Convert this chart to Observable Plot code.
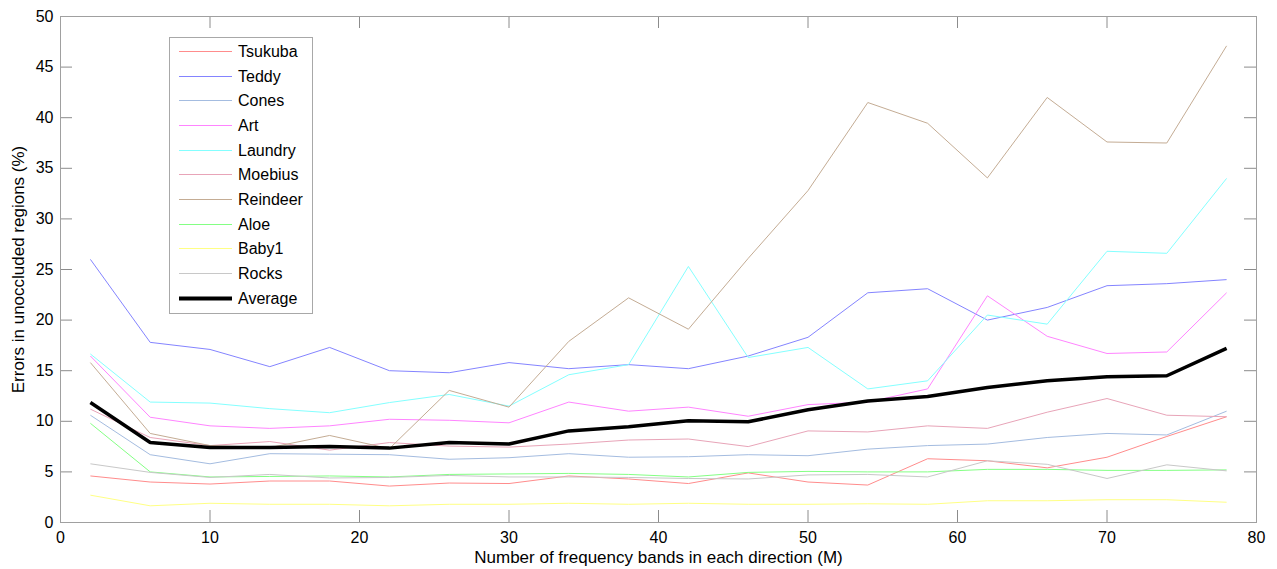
<!DOCTYPE html>
<html>
<head>
<meta charset="utf-8">
<script src="https://cdn.jsdelivr.net/npm/d3@7"></script>
<script src="https://cdn.jsdelivr.net/npm/@observablehq/plot@0.6"></script>
<style>
  html, body { margin: 0; padding: 0; background: #fff; }
  #wrap { position: relative; width: 1277px; height: 569px; font-family: "Liberation Sans", Arial, sans-serif; }
  #legend { position: absolute; left: 169px; top: 37px; }
</style>
</head>
<body>
<div id="wrap"></div>
<script>
const M = [2, 6, 10, 14, 18, 22, 26, 30, 34, 38, 42, 46, 50, 54, 58, 62, 66, 70, 74, 78];

const tsukuba  = [4.6, 4.0, 3.8, 4.1, 4.1, 3.6, 3.9, 3.85, 4.6, 4.3, 3.85, 4.9, 4.0, 3.7, 6.3, 6.1, 5.4, 6.45, 8.5, 10.45];
const teddy    = [26.0, 17.8, 17.1, 15.4, 17.3, 15.0, 14.8, 15.8, 15.2, 15.6, 15.2, 16.45, 18.3, 22.7, 23.1, 20.0, 21.25, 23.4, 23.6, 24.0];
const cones    = [10.6, 6.7, 5.8, 6.8, 6.75, 6.7, 6.25, 6.4, 6.8, 6.45, 6.5, 6.7, 6.6, 7.25, 7.6, 7.75, 8.4, 8.8, 8.65, 11.0];
const art      = [16.45, 10.4, 9.55, 9.3, 9.55, 10.2, 10.1, 9.85, 11.9, 11.0, 11.4, 10.5, 11.65, 11.9, 13.2, 22.4, 18.4, 16.7, 16.85, 22.7];
const laundry  = [16.65, 11.9, 11.8, 11.25, 10.85, 11.85, 12.65, 11.5, 14.6, 15.6, 25.3, 16.3, 17.3, 13.2, 14.0, 20.5, 19.6, 26.8, 26.6, 34.0];
const moebius  = [11.2, 8.4, 7.6, 8.0, 7.15, 7.9, 7.55, 7.45, 7.75, 8.15, 8.25, 7.5, 9.05, 8.95, 9.55, 9.3, 10.9, 12.25, 10.6, 10.45];
const reindeer = [15.8, 8.8, 7.6, 7.4, 8.6, 7.3, 13.05, 11.4, 17.9, 22.2, 19.1, 26.1, 32.8, 41.5, 39.45, 34.05, 42.0, 37.6, 37.5, 47.1];
const aloe     = [9.8, 5.0, 4.5, 4.55, 4.6, 4.5, 4.75, 4.8, 4.85, 4.75, 4.5, 4.95, 5.05, 5.0, 5.0, 5.25, 5.25, 5.15, 5.15, 5.2];
const baby1    = [2.7, 1.65, 1.9, 1.8, 1.8, 1.65, 1.8, 1.8, 1.9, 1.8, 1.9, 1.8, 1.8, 1.85, 1.8, 2.15, 2.15, 2.25, 2.25, 2.0];
const rocks    = [5.8, 4.95, 4.45, 4.75, 4.4, 4.45, 4.65, 4.5, 4.5, 4.45, 4.35, 4.3, 4.7, 4.75, 4.5, 6.1, 5.75, 4.35, 5.7, 5.1];
const average  = [11.85, 7.9, 7.4, 7.4, 7.5, 7.35, 7.9, 7.75, 9.05, 9.45, 10.05, 9.95, 11.15, 12.0, 12.45, 13.35, 14.0, 14.4, 14.5, 17.2];

const seriesNames  = ["Tsukuba", "Teddy", "Cones", "Art", "Laundry", "Moebius", "Reindeer", "Aloe", "Baby1", "Rocks", "Average"];
const seriesValues = [tsukuba, teddy, cones, art, laundry, moebius, reindeer, aloe, baby1, rocks, average];
const seriesColors = ["#ff8c8c", "#8484ff", "#a4bce0", "#ff84ff", "#84ffff", "#e8a4b8", "#c4ac94", "#84ff84", "#ffff84", "#c8c8c8", "#000000"];
const seriesWidths = [1, 1, 1, 1, 1, 1, 1, 1, 1, 1, 3.5];

const xTicks = [0, 10, 20, 30, 40, 50, 60, 70, 80];
const yTicks = [0, 5, 10, 15, 20, 25, 30, 35, 40, 45, 50];
const xLabel = "Number of frequency bands in each direction (M)";
const yLabel = "Errors in unoccluded regions (%)";

const W = 1277, H = 569;
const mL = 60, mR = 21, mT = 16, mB = 47;
const pw = W - mL - mR, ph = H - mT - mB;
const T = 12;

const rows = [];
seriesNames.forEach((name, i) => {
  M.forEach((m, j) => rows.push({series: name, idx: i, M: m, v: seriesValues[i][j]}));
});

const lineMarks = seriesNames.map((name, i) =>
  Plot.line(rows.filter(r => r.idx === i), {
    x: "M", y: "v", stroke: seriesColors[i], strokeWidth: seriesWidths[i],
    strokeLinejoin: "miter", strokeLinecap: "butt"
  })
);

const tickColor = "#8c8c8c";
const chart = Plot.plot({
  width: W, height: H,
  marginLeft: mL, marginRight: mR, marginTop: mT, marginBottom: mB,
  style: {fontFamily: "'Liberation Sans', Arial, sans-serif", fontSize: "16px", color: "#000", background: "#fff", overflow: "visible"},
  x: {domain: [0, 80]},
  y: {domain: [0, 50]},
  marks: [
    Plot.ruleX(xTicks, {x: d => d, insetTop: ph - T, stroke: tickColor}),
    Plot.ruleX(xTicks, {x: d => d, insetBottom: ph - T, stroke: tickColor}),
    Plot.ruleY(yTicks, {y: d => d, insetRight: pw - T, stroke: tickColor}),
    Plot.ruleY(yTicks, {y: d => d, insetLeft: pw - T, stroke: tickColor}),
    ...lineMarks,
    Plot.frame({stroke: "#a0a0a0"}),
    Plot.axisX({ticks: xTicks, tickSize: 0, tickPadding: 9, tickFormat: d => String(d), label: null, fill: "#000"}),
    Plot.axisY({ticks: yTicks, tickSize: 0, tickPadding: 7, tickFormat: d => String(d), label: null, fill: "#000"}),
    Plot.text([xLabel], {frameAnchor: "bottom", dy: 40, text: d => d, fontSize: 17, fill: "#000", lineAnchor: "bottom"}),
    Plot.text([yLabel], {frameAnchor: "left", dx: -42, rotate: -90, text: d => d, fontSize: 17, fill: "#000", textAnchor: "middle", lineAnchor: "middle"})
  ]
});

const wrap = document.getElementById("wrap");
wrap.appendChild(chart);

// Legend (drawn as an overlay SVG)
const lw = 144, lh = 277;
const leg = d3.create("svg").attr("id", "legend").attr("width", lw).attr("height", lh)
  .style("position", "absolute").style("left", "169px").style("top", "37px");
leg.append("rect").attr("x", 0.5).attr("y", 0.5).attr("width", lw - 1).attr("height", lh - 1)
  .attr("fill", "#fff").attr("stroke", "#a8a8a8");
seriesNames.forEach((name, i) => {
  const cy = Math.round(14 + i * 24.65) + 0.5;
  leg.append("line").attr("x1", 10).attr("x2", 63).attr("y1", cy).attr("y2", cy)
    .attr("stroke", seriesColors[i]).attr("stroke-width", seriesWidths[i] > 1 ? 4 : 1);
  leg.append("text").attr("x", 69).attr("y", cy).attr("dy", "0.35em")
    .attr("font-family", "'Liberation Sans', Arial, sans-serif").attr("font-size", 16)
    .attr("fill", "#000").text(name);
});
wrap.appendChild(leg.node());
</script>
</body>
</html>
